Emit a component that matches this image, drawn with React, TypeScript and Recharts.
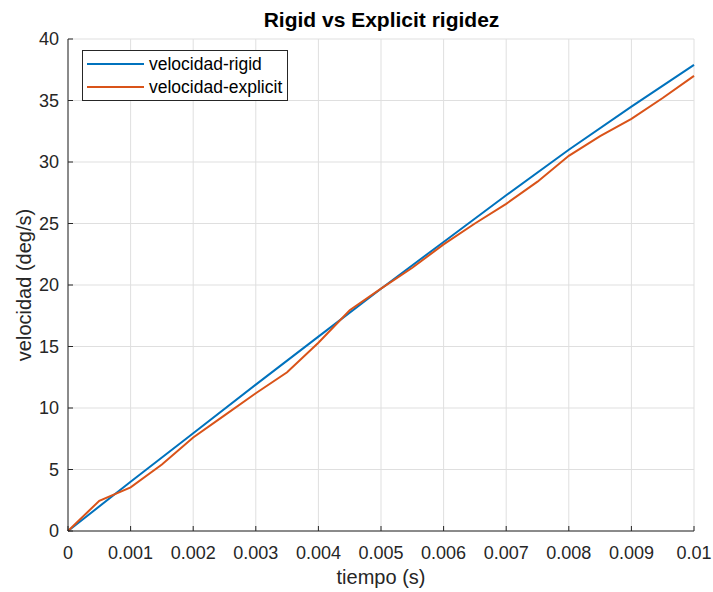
import { CartesianGrid, Legend, Line, LineChart, XAxis, YAxis } from "recharts";

// tiempo (s) / velocidad (deg/s)
const rigidTime = [0, 0.001, 0.002, 0.003, 0.004, 0.005, 0.006, 0.007, 0.008, 0.009, 0.01];
const rigidVel = [0, 4.0, 7.95, 11.9, 15.8, 19.7, 23.5, 27.3, 31.0, 34.5, 37.9];

const explicitTime = [
  0, 0.0005, 0.001, 0.0015, 0.002, 0.0025, 0.003, 0.0035, 0.004, 0.0045, 0.005,
  0.0055, 0.006, 0.0065, 0.007, 0.0075, 0.008, 0.0085, 0.009, 0.0095, 0.01,
];
const explicitVel = [
  0, 2.46, 3.55, 5.4, 7.6, 9.4, 11.2, 12.9, 15.3, 17.95, 19.7,
  21.4, 23.3, 25.0, 26.6, 28.4, 30.5, 32.1, 33.5, 35.2, 37.0,
];

const seriesNames = ["velocidad-rigid", "velocidad-explicit"];

const xTicks = [0, 0.001, 0.002, 0.003, 0.004, 0.005, 0.006, 0.007, 0.008, 0.009, 0.01];
const xTickLabels = ["0", "0.001", "0.002", "0.003", "0.004", "0.005", "0.006", "0.007", "0.008", "0.009", "0.01"];
const yTicks = [0, 5, 10, 15, 20, 25, 30, 35, 40];

const BLUE = "#0072BD";
const ORANGE = "#D95319";
const AXIS = "#262626";
const FONT = "'Liberation Sans', Arial, Helvetica, sans-serif";

const rigidData = rigidTime.map((t, i) => ({ t, v: rigidVel[i] }));
const explicitData = explicitTime.map((t, i) => ({ t, v: explicitVel[i] }));

function LegendBox({ payload }: any) {
  const items = [...(payload || [])].sort(
    (a: any, b: any) => seriesNames.indexOf(a.value) - seriesNames.indexOf(b.value)
  );
  return (
    <div
      style={{
        width: 206,
        height: 51,
        boxSizing: "border-box",
        border: `1px solid ${AXIS}`,
        background: "#fff",
        paddingTop: 1,
        fontFamily: FONT,
        fontSize: 17.5,
        color: "#000",
      }}
    >
      {items.map((p: any) => (
        <div key={p.value} style={{ display: "flex", alignItems: "center", height: 23.5 }}>
          <span style={{ display: "inline-block", width: 57, height: 2, marginLeft: 4, background: p.color }} />
          <span style={{ marginLeft: 5, lineHeight: "20px" }}>{p.value}</span>
        </div>
      ))}
    </div>
  );
}

export default function App() {
  return (
    <div style={{ position: "absolute", left: 0, top: 0, width: 713, height: 592, background: "#fff", fontFamily: FONT }}>
      <div
        style={{
          position: "absolute",
          left: 0,
          width: 763,
          top: 5,
          textAlign: "center",
          fontWeight: "bold",
          fontSize: 21,
          lineHeight: "30px",
          color: "#000",
          zIndex: 2,
        }}
      >
        Rigid vs Explicit rigidez
      </div>
      <LineChart width={713} height={592} margin={{ top: 39, right: 19, bottom: 0, left: 0 }}>
        <CartesianGrid stroke="#dfdfdf" strokeWidth={1} />
        <XAxis
          dataKey="t"
          type="number"
          domain={[0, 0.01]}
          ticks={xTicks}
          tickFormatter={(v: number) => xTickLabels[xTicks.indexOf(v)] ?? String(v)}
          allowDuplicatedCategory={false}
          height={61}
          stroke={AXIS}
          tickSize={-5}
          tickMargin={20}
          tick={{ fontSize: 18, fill: AXIS, fontFamily: FONT }}
          label={{
            content: ({ viewBox }: any) => (
              <text
                x={viewBox.x + viewBox.width / 2}
                y={viewBox.y + 53}
                textAnchor="middle"
                fontSize={20}
                fill={AXIS}
                fontFamily={FONT}
              >
                tiempo (s)
              </text>
            ),
          }}
        />
        <YAxis
          type="number"
          domain={[0, 40]}
          ticks={yTicks}
          width={68}
          stroke={AXIS}
          tickSize={-5}
          tickMargin={14}
          tick={{ fontSize: 18, fill: AXIS, fontFamily: FONT }}
          label={{
            content: ({ viewBox }: any) => {
              const cx = 31;
              const cy = viewBox.y + viewBox.height / 2;
              return (
                <text
                  x={cx}
                  y={cy}
                  transform={`rotate(-90, ${cx}, ${cy})`}
                  textAnchor="middle"
                  fontSize={20}
                  fill={AXIS}
                  fontFamily={FONT}
                >
                  velocidad (deg/s)
                </text>
              );
            },
          }}
        />
        <Legend
          layout="horizontal"
          align="center"
          verticalAlign="middle"
          content={<LegendBox />}
          wrapperStyle={{ left: 82, top: 50, width: 206, height: 51 }}
        />
        <Line
          data={rigidData}
          dataKey="v"
          name="velocidad-rigid"
          type="linear"
          stroke={BLUE}
          strokeWidth={2}
          dot={false}
          activeDot={false}
          isAnimationActive={false}
        />
        <Line
          data={explicitData}
          dataKey="v"
          name="velocidad-explicit"
          type="linear"
          stroke={ORANGE}
          strokeWidth={2}
          dot={false}
          activeDot={false}
          isAnimationActive={false}
        />
      </LineChart>
    </div>
  );
}
